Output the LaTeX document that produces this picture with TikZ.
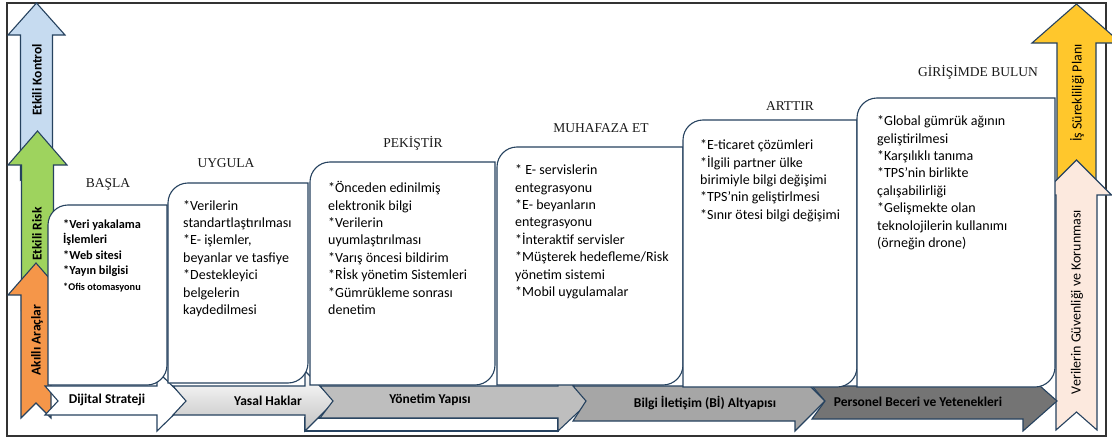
\documentclass[tikz,border=0pt]{standalone}
\usepackage{fontspec}
\setmainfont{Carlito}
\newfontfamily\stagetitlefont{Liberation Serif}

\definecolor{outline}{HTML}{26425F}
\definecolor{framegray}{HTML}{333333}
\definecolor{ctrlblue}{HTML}{C6DBF0}
\definecolor{riskgreen}{HTML}{9ED35E}
\definecolor{toolorange}{HTML}{F59649}
\definecolor{plangold}{HTML}{FFC72C}
\definecolor{datapeach}{HTML}{FCE9DE}
\definecolor{baseA}{HTML}{FFFFFF}
\definecolor{baseB}{HTML}{E4E4E4}
\definecolor{baseC}{HTML}{BEBEBE}
\definecolor{baseD}{HTML}{A6A6A6}
\definecolor{baseE}{HTML}{747474}

% vertical block arrow: cx, tip y, head half width, shaft half width, head base y, bottom y, tail notch, style
\newcommand{\uparrowpath}[8]{%
  \path[#8] (#1,#2) -- (#1+#3,#5) -- (#1+#4,#5) -- (#1+#4,#6) -- (#1,#6-#7)
    -- (#1-#4,#6) -- (#1-#4,#5) -- (#1-#3,#5) -- cycle;}

% notched step arrow along the bottom: left x, tip x, head back x, shaft bottom y, style
\newcommand{\steparrow}[5]{%
  \path[#5] (#1,386) -- (#1+13,401) -- (#1,#4) -- (#3,#4) -- (#3,431)
    -- (#2,401) -- (#3,371) -- (#3,386) -- cycle;}

% card with rounded top-left and bottom-right corners: x1, y1, x2, y2
\newcommand{\stagecard}[4]{%
  \path[card] (#1,#4) -- (#1,#2+20) .. controls (#1,#2+9) and (#1+9,#2) .. (#1+20,#2)
    -- (#3,#2) -- (#3,#4-20) .. controls (#3,#4-9) and (#3-9,#4) .. (#3-20,#4) -- cycle;}

\begin{document}
\begin{tikzpicture}[x=1pt,y=-1pt,line join=miter,
  shapeline/.style={draw=outline,line width=1.1pt},
  card/.style={shapeline,fill=white},
  itemtext/.style={anchor=north west,align=left,inner sep=0pt,
    font=\fontsize{14}{17.4}\selectfont,text=black},
  smallitems/.style={itemtext,font=\bfseries\fontsize{12.3}{15.5}\selectfont},
  stagetitle/.style={inner sep=0pt,font=\stagetitlefont\fontsize{13.5}{16}\selectfont,text=black!90},
  sidelabel/.style={rotate=90,inner sep=0pt,font=\bfseries\fontsize{13.5}{16}\selectfont,text=black},
  rightlabel/.style={rotate=90,inner sep=0pt,font=\fontsize{14}{16}\selectfont,text=black},
  baselabel/.style={inner sep=0pt,font=\bfseries\fontsize{13.5}{16}\selectfont,text=black}]

\useasboundingbox (0,0) rectangle (1112,439);
\fill[white] (0,0) rectangle (1112,439);

% outer frame
\draw[framegray,line width=1.2pt] (7,3) rectangle (1106,436);

% left column of stacked arrows
\uparrowpath{36.5}{3}{28.5}{16}{35}{180}{15}{shapeline,fill=ctrlblue}
\uparrowpath{37.5}{131}{29.5}{16}{165}{310}{15}{shapeline,fill=riskgreen}
\uparrowpath{36}{263}{28}{15}{295}{418}{15}{shapeline,fill=toolorange}

% right column of stacked arrows
\uparrowpath{1076.5}{4}{44.5}{19.5}{43}{199}{15}{shapeline,fill=plangold}
\uparrowpath{1076.5}{160}{35}{20.5}{195}{430}{18}{shapeline,fill=datapeach}

% light lower face under the middle step arrow
\path[shapeline,fill=white] (305,418) rectangle (558,431);

% bottom row of step arrows
\steparrow{45}{188}{157}{415}{shapeline,fill=baseA}
\steparrow{173}{335}{305}{415}{shapeline,top color=white,bottom color=baseB!85!black}
\steparrow{320}{590}{558}{418}{shapeline,fill=baseC}
\steparrow{573}{825}{795}{421}{shapeline,fill=baseD}
\steparrow{812}{1057}{1023}{419}{shapeline,fill=baseE}

% stage cards
\stagecard{48}{205}{167}{385}
\stagecard{168}{183}{308}{383}
\stagecard{310}{162}{495}{385}
\stagecard{497}{147}{683}{385}
\stagecard{683}{120}{857}{387}
\stagecard{857}{98}{1055}{387}

% stage titles
\node[stagetitle] (t1) at (108,184) {BAŞLA};
\node[stagetitle] (t2) at (226,163) {UYGULA};
\node[stagetitle] (t3) at (413,143) {PEKİŞTİR};
\node[stagetitle] (t4) at (601,128) {MUHAFAZA ET};
\node[stagetitle] (t5) at (790,106) {ARTTIR};
\node[stagetitle] (t6) at (978,72) {GİRİŞİMDE BULUN};

% card contents
\node[smallitems] (c1) at (63,217.2) {\strut*Veri yakalama\\İşlemleri\\*Web sitesi\\*Yayın bilgisi\\{\fontsize{10.3}{14}\selectfont *Ofis otomasyonu}};
\node[itemtext] (c2) at (183,197.8) {\strut*Verilerin\\standartlaştırılması\\*E- işlemler,\\beyanlar ve tasfiye\\*Destekleyici\\belgelerin\\kaydedilmesi};
\node[itemtext] (c3) at (328,180.3) {\strut*Önceden edinilmiş\\elektronik bilgi\\*Verilerin\\uyumlaştırılması\\*Varış öncesi bildirim\\*Rİsk yönetim Sistemleri\\*Gümrükleme sonrası\\denetim};
\node[itemtext] (c4) at (515,162.3) {\strut* E- servislerin\\entegrasyonu\\*E- beyanların\\entegrasyonu\\*İnteraktif servisler\\*Müşterek hedefleme/Risk\\yönetim sistemi\\*Mobil uygulamalar};
\node[itemtext] (c5) at (700,137.3) {\strut*E-ticaret çözümleri\\*İlgili partner ülke\\birimiyle bilgi değişimi\\*TPS'nin geliştirlmesi\\*Sınır ötesi bilgi değişimi};
\node[itemtext] (c6) at (877,113.3) {\strut*Global gümrük ağının\\geliştirilmesi\\*Karşılıklı tanıma\\*TPS'nin birlikte\\çalışabilirliği\\*Gelişmekte olan\\teknolojilerin kullanımı\\(örneğin drone)};

% labels on the side arrows
\node[sidelabel] (l1) at (37,80) {Etkili Kontrol};
\node[sidelabel] (l2) at (37,234) {Etkili Risk};
\node[sidelabel] (l3) at (37,340) {Akıllı Araçlar};
\node[rightlabel] (r1) at (1077,93) {İş Sürekliliği Planı};
\node[rightlabel] (r2) at (1077,302) {Verilerin Güvenliği ve Korunması};

% labels on the bottom arrows
\node[baselabel] (s1) at (107,400) {Dijital Strateji};
\node[baselabel] (s2) at (268,401) {Yasal Haklar};
\node[baselabel] (s3) at (430,400) {Yönetim Yapısı};
\node[baselabel] (s4) at (705,403) {Bilgi İletişim (Bİ) Altyapısı};
\node[baselabel] (s5) at (918,402) {Personel Beceri ve Yetenekleri};
\end{tikzpicture}
\end{document}
